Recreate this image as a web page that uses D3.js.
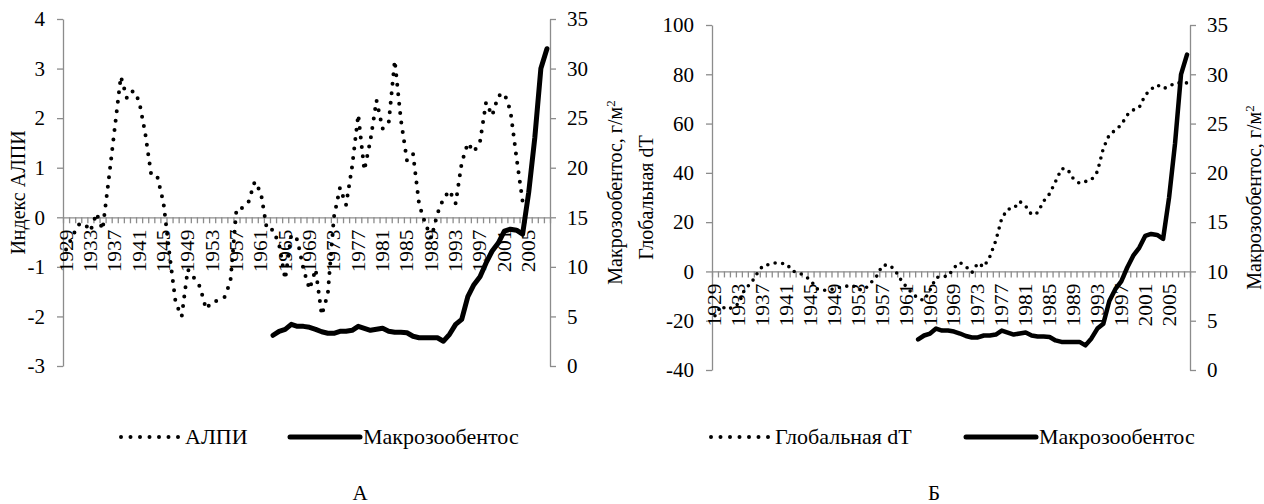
<!DOCTYPE html>
<html>
<head>
<meta charset="utf-8">
<title>АЛПИ, глобальная dT и макрозообентос</title>
<script src="https://cdn.jsdelivr.net/npm/d3@7/dist/d3.min.js"></script>
<style>
  body { margin: 0; background: #fff; }
  svg text { font-family: "Times New Roman", "Liberation Serif", "DejaVu Serif", serif; fill: #000; }
</style>
</head>
<body>
<script>
// годы по оси X
var years = d3.range(1929, 2009);

// индекс АЛПИ, 1929-2004
var alpiYears = d3.range(1929, 2005);
var alpi = [-0.65, -0.4, -0.15, -0.12, -0.28, 0.08, -0.25, 0.75, 1.8, 2.84,
            2.4, 2.55, 2.35, 1.7, 0.85, 0.82, 0.3, -0.75, -1.72, -2.0,
            -1.05, -1.22, -1.4, -1.85, -1.7, -1.68, -1.62, -1.3, 0.17, 0.19,
            0.32, 0.72, 0.5, -0.25, -0.25, -0.55, -1.25, -0.35, -0.45, -1.05,
            -1.45, -1.05, -1.97, -1.55, 0.0, 0.6, 0.25, 1.03, 2.07, 0.95,
            1.55, 2.36, 1.79, 1.9, 3.16, 1.97, 1.15, 1.28, 0.26, -0.12,
            -0.42, 0.07, 0.38, 0.54, 0.28, 1.1, 1.5, 1.32, 1.52, 2.32,
            2.05, 2.45, 2.5, 2.15, 1.2, 0.32];

// глобальная dT, 1929-2008
var dT = [-18, -14, -15.5, -14.5, -13, -7, -5, -1, 2.3, 2.8,
          3.4, 3.3, 3.0, 0.1, -0.5, -1.8, -3.5, -7, -7.7, -7.5,
          -7, -6.4, -6, -5.6, -7.4, -7.4, -4.8, -2.2, 2.4, 2.7,
          1, -3, -6.2, -8.8, -11, -11.8, -7.5, -2.5, -2, -2,
          1.5, 3.6, 2, -0.5, 3.4, 1.8, 6, 12.5, 21.6, 25.3,
          25.5, 28.4, 26.5, 23, 23.8, 28.5, 31.5, 36.5, 41.7, 41.5,
          37.5, 35.8, 36.5, 37.2, 40.5, 50, 55.5, 57.3, 59.5, 63.5,
          65.5, 66.5, 71.5, 74, 75.7, 74.2, 75, 76.5, 76.5, 76.5];

// макрозообентос, г/м2, 1963-2008
var benthosYears = d3.range(1963, 2009);
var benthos = [3.1, 3.5, 3.7, 4.2, 4.0, 4.0, 3.9, 3.7, 3.45, 3.3,
               3.3, 3.5, 3.5, 3.6, 4.0, 3.8, 3.6, 3.7, 3.8, 3.5,
               3.4, 3.4, 3.35, 3.0, 2.85, 2.85, 2.85, 2.85, 2.5, 3.2,
               4.2, 4.7, 7.0, 8.2, 9.0, 10.4, 11.6, 12.4, 13.6, 13.8,
               13.7, 13.3, 17.5, 23, 30, 32];

var leftTicks = [-3, -2, -1, 0, 1, 2, 3, 4];
var dTTicks = [-40, -20, 0, 20, 40, 60, 80, 100];
var benthosTicks = [0, 5, 10, 15, 20, 25, 30, 35];
var labelYears = years.filter(function(d){ return (d - 1929) % 4 == 0; });

var axisColor = "#8c8c8c";
var fontFamily = "'Times New Roman', 'Liberation Serif', serif";
var fontSize = 21;
var fmt = function(d){ return String(d); };

var svg = d3.select("body")
            .append("svg")
            .attr("width", 1264)
            .attr("height", 504)
            .attr("font-family", fontFamily);

function drawPanel(p){
  var x = d3.scaleBand().domain(years).range([p.x0, p.x1]);
  var xb = d3.scaleLinear().domain([1929, 2009]).range([p.x0, p.x1]);
  var yL = d3.scaleLinear().domain(p.leftDomain).range([p.yBottom, p.yTop]);
  var yR = d3.scaleLinear().domain([0, 35]).range([p.yBottom, p.yTop]);
  var y0 = yL(0);

  var g = svg.append("g");

  // левая ось
  var ga = g.append("g")
            .attr("transform", "translate(" + p.x0 + ",0)")
            .call(d3.axisLeft(yL).tickValues(p.leftTicks).tickFormat(fmt).tickSize(6).tickSizeOuter(0).tickPadding(12));
  // правая ось
  var gb = g.append("g")
            .attr("transform", "translate(" + p.x1 + ",0)")
            .call(d3.axisRight(yR).tickValues(benthosTicks).tickFormat(fmt).tickSize(6).tickSizeOuter(0).tickPadding(11));
  // ось X: штрихи по годам
  var gc = g.append("g")
            .attr("transform", "translate(0," + y0 + ")")
            .call(d3.axisBottom(xb).tickValues(d3.range(1929, 2010)).tickSize(6).tickSizeOuter(0).tickFormat(""));
  // подписи годов
  var gd = g.append("g")
            .attr("transform", "translate(0," + y0 + ")")
            .call(d3.axisBottom(x).tickValues(labelYears).tickSize(0));
  gd.select(".domain").remove();
  gd.selectAll("text")
    .attr("transform", "rotate(-90) scale(1.02,0.88)")
    .attr("text-anchor", "end")
    .attr("x", -12)
    .attr("y", 0)
    .attr("dy", "0.35em");

  [ga, gb, gc, gd].forEach(function(a){
    a.attr("font-family", fontFamily).attr("font-size", fontSize);
    a.selectAll("path, line").attr("stroke", axisColor).attr("stroke-width", 1.3);
    a.selectAll("text").attr("fill", "#000");
  });

  // заголовки осей
  g.append("text")
   .attr("transform", "translate(" + p.titleL + "," + ((p.yTop + p.yBottom) / 2) + ") rotate(-90)")
   .attr("text-anchor", "middle")
   .attr("font-size", 20)
   .text(p.leftTitle);
  var tr = g.append("text")
   .attr("transform", "translate(" + p.titleR + "," + ((p.yTop + p.yBottom) / 2) + ") rotate(-90)")
   .attr("text-anchor", "middle")
   .attr("font-size", 20);
  tr.append("tspan").text("Макрозообентос, г/м");
  tr.append("tspan").attr("dy", -7).attr("font-size", 13).text("2");

  // пунктир
  var ld = d3.line()
             .x(function(d){ return x(d[0]) + x.bandwidth() / 2; })
             .y(function(d){ return yL(d[1]); });
  g.append("path")
   .datum(d3.zip(p.dotYears, p.dotValues))
   .attr("d", ld)
   .attr("fill", "none")
   .attr("stroke", "#000")
   .attr("stroke-width", p.dotWidth)
   .attr("stroke-linecap", "round")
   .attr("stroke-dasharray", "0," + p.dotGap);

  // макрозообентос
  var lb = d3.line()
             .x(function(d){ return x(d[0]) + x.bandwidth() / 2; })
             .y(function(d){ return yR(d[1]); });
  g.append("path")
   .datum(d3.zip(benthosYears, benthos))
   .attr("d", lb)
   .attr("fill", "none")
   .attr("stroke", "#000")
   .attr("stroke-width", p.solidWidth)
   .attr("stroke-linejoin", "round")
   .attr("stroke-linecap", "round");

  // легенда
  var lg = g.append("g").attr("transform", "translate(0,437)");
  lg.append("line")
    .attr("x1", p.leg[0]).attr("x2", p.leg[0] + 58).attr("y1", 0).attr("y2", 0)
    .attr("stroke", "#000").attr("stroke-width", 4)
    .attr("stroke-linecap", "round").attr("stroke-dasharray", "0,9.5");
  lg.append("text").attr("x", p.leg[0] + 64).attr("y", 7).attr("font-size", 22).text(p.dotName);
  lg.append("line")
    .attr("x1", p.leg[1]).attr("x2", p.leg[1] + 70).attr("y1", 0).attr("y2", 0)
    .attr("stroke", "#000").attr("stroke-width", 5).attr("stroke-linecap", "round");
  lg.append("text").attr("x", p.leg[1] + 73).attr("y", 7).attr("font-size", 22).text("Макрозообентос");

  g.append("text")
   .attr("x", p.letterX).attr("y", 500)
   .attr("text-anchor", "middle")
   .attr("font-size", fontSize)
   .text(p.letter);
}

drawPanel({
  x0: 63, x1: 550, yTop: 19, yBottom: 366,
  leftDomain: [-3, 4], leftTicks: leftTicks,
  leftTitle: "Индекс АЛПИ", titleL: 25, titleR: 622,
  dotYears: alpiYears, dotValues: alpi, dotName: "АЛПИ",
  dotWidth: 4, dotGap: 9.5, solidWidth: 5,
  leg: [121, 290], letter: "А", letterX: 360
});

drawPanel({
  x0: 712, x1: 1190, yTop: 25, yBottom: 370,
  leftDomain: [-40, 100], leftTicks: dTTicks,
  leftTitle: "Глобальная dT", titleL: 653, titleR: 1261,
  dotYears: years, dotValues: dT, dotName: "Глобальная dT",
  dotWidth: 3.6, dotGap: 7.5, solidWidth: 4.5,
  leg: [711, 966], letter: "Б", letterX: 934
});
</script>
</body>
</html>
